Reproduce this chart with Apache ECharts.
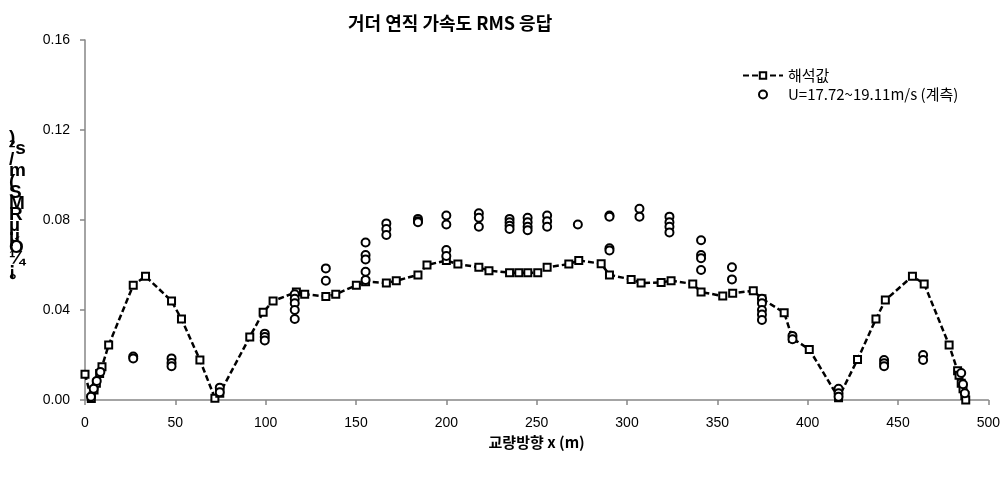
<!DOCTYPE html>
<html>
<head>
<meta charset="utf-8">
<script src="https://cdn.jsdelivr.net/npm/echarts@6/dist/echarts.min.js"></script>
<style>html,body{margin:0;padding:0;background:#fff;}#c{width:1003px;height:477px;}</style>
</head>
<body>
<div id="c"></div>
<script>
// Analysis (해석값) line
var analysisX = [0, 3.5, 5, 6.3, 8.1, 9.4, 13.1, 26.7, 33.5, 47.9, 53.4, 63.6, 71.9, 74.6, 91.2, 98.6, 104.1, 117, 121.6, 133.3, 138.8, 150.2, 155.3, 166.8, 172.3, 184.3, 189.3, 200, 206.4, 218, 223.6, 235, 240.1, 245.1, 250.6, 255.8, 267.8, 273.3, 285.7, 290.3, 302.3, 307.8, 318.9, 324.4, 336.4, 341, 353, 358.5, 369.9, 374.7, 387, 391.6, 400.9, 417.1, 427.6, 437.8, 443, 458, 464.5, 478.3, 483, 483.8, 485, 486, 487, 487.5];
var analysisY = [0.0115, 0.0007, 0.0044, 0.0074, 0.0118, 0.0148, 0.0244, 0.051, 0.055, 0.044, 0.036, 0.0178, 0.0008, 0.003, 0.028, 0.039, 0.044, 0.048, 0.047, 0.046, 0.047, 0.051, 0.0526, 0.052, 0.053, 0.0556, 0.060, 0.062, 0.0604, 0.059, 0.0575, 0.0566, 0.0566, 0.0566, 0.0566, 0.059, 0.0604, 0.062, 0.0606, 0.0556, 0.0536, 0.052, 0.0522, 0.053, 0.0516, 0.048, 0.0462, 0.0474, 0.0486, 0.045, 0.0388, 0.0274, 0.0225, 0.001, 0.018, 0.036, 0.0444, 0.055, 0.0516, 0.0244, 0.013, 0.011, 0.0075, 0.005, 0.002, 0.0];
// Measured (U=17.72~19.11m/s)
var measuredX = [3.3, 4.8, 6.5, 8.5, 26.7, 26.7, 47.9, 47.9, 47.9, 74.6, 74.6, 99.5, 99.5, 99.5, 116.1, 116.1, 116.1, 116.1, 116.1, 133.3, 133.3, 155.3, 155.3, 155.3, 155.3, 155.3, 166.8, 166.8, 166.8, 184.3, 184.3, 184.3, 200, 200, 200, 200, 218, 218, 218, 235, 235, 235, 235, 245, 245, 245, 245, 255.8, 255.8, 255.8, 272.8, 290.3, 290.3, 290.3, 290.3, 306.9, 306.9, 323.5, 323.5, 323.5, 323.5, 341, 341, 341, 341, 358.1, 358.1, 374.7, 374.7, 374.7, 374.7, 374.7, 391.6, 391.6, 417.1, 417.1, 417.1, 442.3, 442.3, 442.3, 463.9, 463.9, 485, 486, 487];
var measuredY = [0.0015, 0.005, 0.0085, 0.0125, 0.0193, 0.0185, 0.0185, 0.0165, 0.015, 0.0055, 0.0035, 0.0295, 0.028, 0.0265, 0.047, 0.045, 0.043, 0.040, 0.036, 0.0585, 0.053, 0.070, 0.0644, 0.0625, 0.057, 0.0533, 0.0785, 0.076, 0.0733, 0.0805, 0.0795, 0.079, 0.082, 0.078, 0.0667, 0.064, 0.083, 0.081, 0.077, 0.0805, 0.079, 0.0775, 0.076, 0.081, 0.079, 0.077, 0.0755, 0.082, 0.0795, 0.077, 0.078, 0.082, 0.0815, 0.0674, 0.0665, 0.085, 0.0815, 0.0815, 0.079, 0.077, 0.0745, 0.071, 0.0644, 0.063, 0.0578, 0.059, 0.0536, 0.045, 0.043, 0.040, 0.038, 0.0356, 0.0285, 0.027, 0.005, 0.003, 0.0015, 0.0178, 0.0163, 0.015, 0.020, 0.0178, 0.012, 0.007, 0.003];
var xTicks = [0, 50, 100, 150, 200, 250, 300, 350, 400, 450, 500];
var yTicks = [0, 0.04, 0.08, 0.12, 0.16];
var titleText = '거더 연직 가속도 RMS 응답';
var xName = '교량방향 x (m)';
var yNameChars = [')', '²s', '/', 'm', '(', 'S', 'M', 'R', 'µ', 'µ', 'Ó', '¼', '¡', '°'];
var seriesNames = ['해석값', 'U=17.72~19.11m/s (계측)'];

var lineData = analysisX.map(function (x, i) { return [x, analysisY[i]]; });
var scatterData = measuredX.map(function (x, i) { return [x, measuredY[i]]; });

var numFont = '"Liberation Sans", "Noto Sans CJK KR", sans-serif';
var krFont = '"Noto Sans CJK KR", sans-serif';
var axisGray = '#868686';

var chart = echarts.init(document.getElementById('c'), null, { renderer: 'canvas' });
chart.setOption({
  backgroundColor: '#fff',
  animation: false,
  title: {
    text: titleText,
    left: 343,
    top: 9,
    textStyle: { fontFamily: krFont, fontSize: 18, fontWeight: 'bold', color: '#000' }
  },
  legend: {
    orient: 'vertical',
    left: 737,
    top: 63,
    itemWidth: 40,
    itemHeight: 8,
    itemGap: 4,
    textStyle: { fontFamily: krFont, fontSize: 15, color: '#000' },
    data: seriesNames
  },
  grid: { left: 85, right: 14, top: 40, bottom: 77, containLabel: false },
  xAxis: {
    type: 'value',
    min: xTicks[0],
    max: xTicks[xTicks.length - 1],
    interval: 50,
    name: xName,
    nameLocation: 'middle',
    nameGap: 33,
    nameTextStyle: { fontFamily: krFont, fontSize: 15, fontWeight: 'bold', color: '#000' },
    axisLine: { show: true, onZero: false, lineStyle: { color: axisGray, width: 1.5 } },
    axisTick: { show: true, length: 5, lineStyle: { color: axisGray, width: 1.5 } },
    axisLabel: { fontFamily: numFont, fontSize: 14, color: '#000', margin: 16 },
    splitLine: { show: false }
  },
  yAxis: {
    type: 'value',
    min: yTicks[0],
    max: yTicks[yTicks.length - 1],
    interval: 0.04,
    axisLine: { show: true, lineStyle: { color: axisGray, width: 1.5 } },
    axisTick: { show: true, length: 5, lineStyle: { color: axisGray, width: 1.5 } },
    axisLabel: { fontFamily: numFont, fontSize: 14, color: '#000', margin: 15,
      formatter: function (v) { return v.toFixed(2); } },
    splitLine: { show: false }
  },
  graphic: [{
    type: 'text',
    left: 9,
    top: 128,
    style: {
      text: yNameChars.join('\n'),
      fontFamily: numFont,
      fontSize: 19,
      fontWeight: 'bold',
      lineHeight: 11,
      fill: '#000',
      align: 'center'
    }
  }],
  series: [{
    name: seriesNames[0],
    type: 'line',
    data: lineData,
    symbol: 'rect',
    symbolSize: 7,
    showAllSymbol: true,
    lineStyle: { color: '#000', width: 2.5, type: [6, 3] },
    itemStyle: { color: '#fff', borderColor: '#000', borderWidth: 2 },
    z: 2
  }, {
    name: seriesNames[1],
    type: 'scatter',
    data: scatterData,
    symbol: 'circle',
    symbolSize: 8,
    itemStyle: { color: '#fff', borderColor: '#000', borderWidth: 2, opacity: 1 },
    z: 3
  }]
});
</script>
</body>
</html>
